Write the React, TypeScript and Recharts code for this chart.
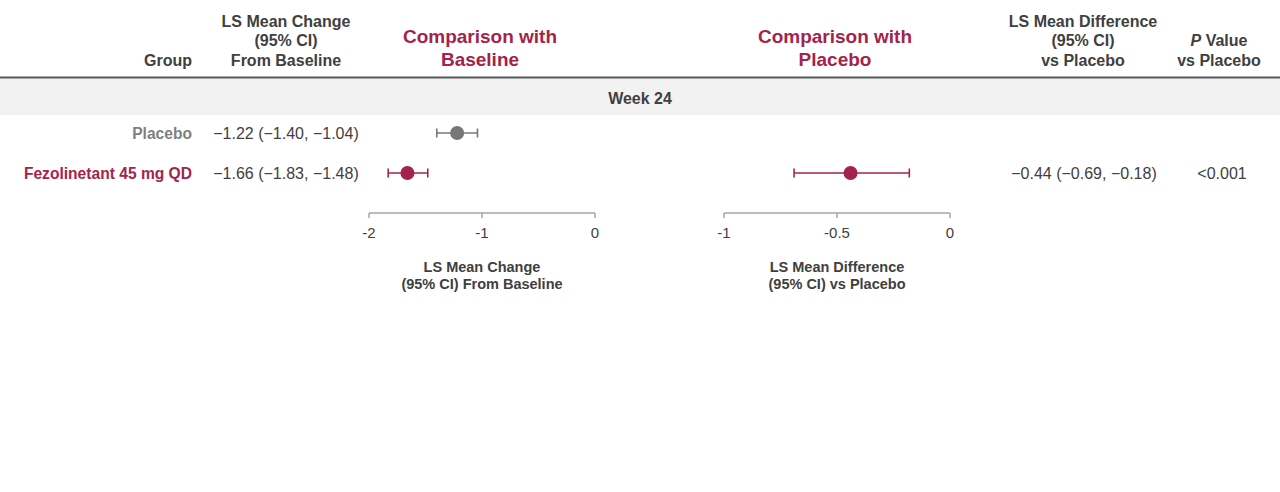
import React from "react";
import { ScatterChart, Scatter, XAxis, YAxis, ErrorBar } from "recharts";

// ---- data ----
const groups = ["Placebo", "Fezolinetant 45 mg QD"];
const changeMean = [-1.22, -1.66];
const changeLow = [-1.4, -1.83];
const changeHigh = [-1.04, -1.48];
const diffGroups = ["Fezolinetant 45 mg QD"];
const diffMean = [-0.44];
const diffLow = [-0.69];
const diffHigh = [-0.18];
const pValues = ["<0.001"];
const changeTicks = [-2, -1, 0];
const diffTicks = [-1, -0.5, 0];
const sectionLabel = "Week 24";

// ---- styles ----
const FONT = "'Liberation Sans', Arial, Helvetica, sans-serif";
const DARK = "#404040";
const CRIMSON = "#a5234b";
const GREY = "#777777";
const GREY_LABEL = "#7f7f7f";
const AXIS = "#a6a6a6";
const groupColor = (g: string) => (g === "Placebo" ? GREY : CRIMSON);
const labelColor = (g: string) => (g === "Placebo" ? GREY_LABEL : CRIMSON);

const fmt = (v: number) => (v < 0 ? "\u2212" : "") + Math.abs(v).toFixed(2);
const ciText = (m: number, l: number, h: number) => `${fmt(m)} (${fmt(l)}, ${fmt(h)})`;

const changeData = groups.map((g, i) => ({
  group: g,
  row: i + 1,
  x: changeMean[i],
  err: [changeMean[i] - changeLow[i], changeHigh[i] - changeMean[i]],
}));
const diffData = diffGroups.map((g, i) => ({
  group: g,
  row: groups.indexOf(g) + 1,
  x: diffMean[i],
  err: [diffMean[i] - diffLow[i], diffHigh[i] - diffMean[i]],
}));

const ROW_Y = [133, 173];

const Dot = (color: string) => (p: any) => <circle cx={p.cx} cy={p.cy} r={7} fill={color} />;

function Forest({
  data,
  domain,
  ticks,
  left,
}: {
  data: any[];
  domain: [number, number];
  ticks: number[];
  left: number;
}) {
  const series = Array.from(new Set(data.map((d) => d.group)));
  return (
    <div style={{ position: "absolute", left, top: 93 }}>
      <ScatterChart width={266} height={170} margin={{ top: 0, right: 20, bottom: 10, left: 20 }}>
        <XAxis
          type="number"
          dataKey="x"
          domain={domain}
          ticks={ticks}
          allowDataOverflow
          height={40}
          axisLine={{ stroke: AXIS, strokeWidth: 1.5 }}
          tickLine={{ stroke: AXIS, strokeWidth: 1.5 }}
          tickSize={5}
          tickMargin={9}
          tick={{ fill: DARK, fontSize: 15, fontFamily: FONT }}
        />
        <YAxis type="number" dataKey="row" domain={[0, 3]} reversed hide />
        {series.map((g) => (
          <Scatter
            key={g}
            data={data.filter((d) => d.group === g)}
            fill={groupColor(g)}
            shape={Dot(groupColor(g))}
            isAnimationActive={false}
          >
            <ErrorBar dataKey="err" direction="x" width={4.5} stroke={groupColor(g)} strokeWidth={1.6} />
          </Scatter>
        ))}
      </ScatterChart>
    </div>
  );
}

export default function App() {
  const t = (x: number, y: number, s: string, opts: any = {}) => (
    <text
      x={x}
      y={y}
      textAnchor={opts.anchor || "middle"}
      fontSize={opts.size || 16}
      fontWeight={opts.bold ? "bold" : "normal"}
      fill={opts.fill || DARK}
      fontFamily={FONT}
    >
      {s}
    </text>
  );
  return (
    <div style={{ position: "absolute", left: 0, top: 0, width: 1280, height: 492, background: "#fff" }}>
      <svg width={1280} height={492} style={{ position: "absolute", left: 0, top: 0 }}>
        <rect x={0} y={78} width={1280} height={37} fill="#f2f2f2" />
        <line x1={0} x2={1280} y1={77.5} y2={77.5} stroke="#595959" strokeWidth={2} />
        {/* header */}
        {t(192, 66, "Group", { anchor: "end", bold: true })}
        {t(286, 27, "LS Mean Change", { bold: true })}
        {t(286, 46, "(95% CI)", { bold: true })}
        {t(286, 66, "From Baseline", { bold: true })}
        {t(480, 43, "Comparison with", { bold: true, size: 19, fill: CRIMSON })}
        {t(480, 66, "Baseline", { bold: true, size: 19, fill: CRIMSON })}
        {t(835, 43, "Comparison with", { bold: true, size: 19, fill: CRIMSON })}
        {t(835, 66, "Placebo", { bold: true, size: 19, fill: CRIMSON })}
        {t(1083, 27, "LS Mean Difference", { bold: true })}
        {t(1083, 46, "(95% CI)", { bold: true })}
        {t(1083, 66, "vs Placebo", { bold: true })}
        <text x={1219} y={46} textAnchor="middle" fontSize={16} fontWeight="bold" fill={DARK} fontFamily={FONT}>
          <tspan fontStyle="italic">P</tspan> Value
        </text>
        {t(1219, 66, "vs Placebo", { bold: true })}
        {t(640, 104, sectionLabel, { bold: true })}
        {/* rows */}
        {groups.map((g, i) => (
          <g key={g}>
            {t(192, ROW_Y[i] + 6, g, { anchor: "end", bold: true, fill: labelColor(g), size: 15.6 })}
            {t(286, ROW_Y[i] + 6, ciText(changeMean[i], changeLow[i], changeHigh[i]))}
          </g>
        ))}
        {diffGroups.map((g, i) => {
          const r = groups.indexOf(g);
          return (
            <g key={g}>
              {t(1084, ROW_Y[r] + 6, ciText(diffMean[i], diffLow[i], diffHigh[i]))}
              {t(1222, ROW_Y[r] + 6, pValues[i])}
            </g>
          );
        })}
        {/* axis titles */}
        {t(482, 272, "LS Mean Change", { bold: true, size: 14.5 })}
        {t(482, 289, "(95% CI) From Baseline", { bold: true, size: 14.5 })}
        {t(837, 272, "LS Mean Difference", { bold: true, size: 14.5 })}
        {t(837, 289, "(95% CI) vs Placebo", { bold: true, size: 14.5 })}
      </svg>
      <Forest data={changeData} domain={[-2, 0]} ticks={changeTicks} left={349} />
      <Forest data={diffData} domain={[-1, 0]} ticks={diffTicks} left={704} />
    </div>
  );
}
